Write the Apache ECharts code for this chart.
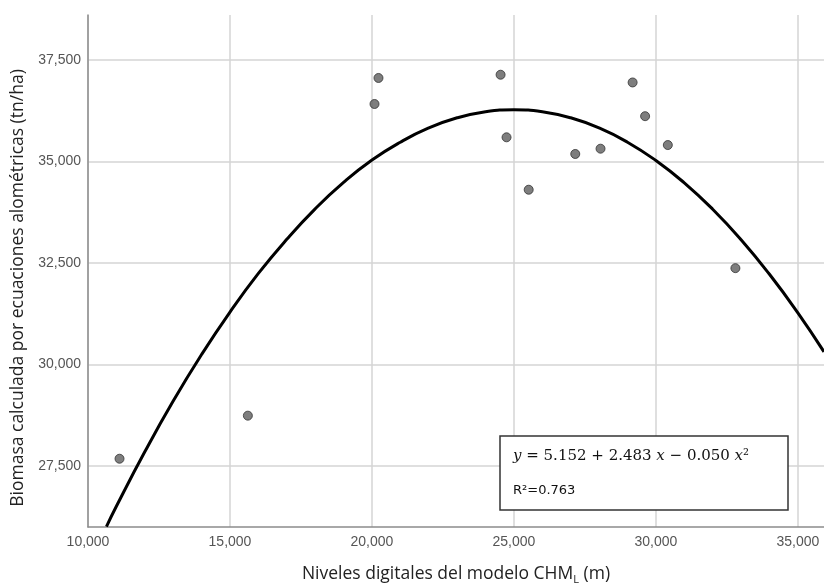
<!DOCTYPE html>
<html>
<head>
<meta charset="utf-8">
<script src="https://cdn.jsdelivr.net/npm/echarts@6/dist/echarts.min.js"></script>
<style>html,body{margin:0;padding:0;background:#fff;}#c{width:824px;height:587px;}</style>
</head>
<body>
<div id="c"></div>
<script>
// Observed points (x: digital level, y: biomass)
const obsX = [11110, 15630, 20090, 20230, 24530, 24740, 25520, 27160, 28050, 29180, 29620, 30420, 32800];
const obsY = [27680, 28740, 36410, 37050, 37130, 35590, 34300, 35180, 35310, 36940, 36110, 35400, 32370];
// Fitted curve
const fitX = [10650, 11000, 12000, 13000, 14000, 15000, 16000, 17000, 18000, 19000, 20000, 21000, 22000, 23000, 24000, 25000, 26000, 27000, 28000, 29000, 30000, 31000, 32000, 33000, 34000, 35000, 35920];
const fitY = [26010, 26510, 27850, 29100, 30245, 31290, 32240, 33080, 33830, 34480, 35030, 35470, 35820, 36070, 36220, 36270, 36220, 36070, 35820, 35470, 35020, 34470, 33820, 33070, 32220, 31270, 30310];
const xTicks = [10000, 15000, 20000, 25000, 30000, 35000];
const yTicks = [27500, 30000, 32500, 35000, 37500];

const fmt = v => Number(v).toLocaleString('en-US');
const chart = echarts.init(document.getElementById('c'), null, {renderer: 'canvas'});
chart.setOption({
  animation: false,
  backgroundColor: '#fff',
  grid: {left: 88, top: 15, right: 0, bottom: 60, containLabel: false, outerBoundsMode: 'none'},
  xAxis: {
    type: 'value', min: 10000, max: 35920,
    name: '{a|Niveles digitales del modelo CHM}{s|L}{a| (m)}',
    nameLocation: 'middle', nameGap: 36,
    nameTextStyle: {
      rich: {
        a: {fontFamily: 'Open Sans', fontSize: 17.5, color: '#222', lineHeight: 22},
        s: {fontFamily: 'Open Sans', fontSize: 11, color: '#222', lineHeight: 11, verticalAlign: 'bottom'}
      }
    },
    axisLine: {show: true, lineStyle: {color: '#8c8c8c', width: 1.5}},
    axisTick: {show: false, customValues: xTicks},
    axisLabel: {customValues: xTicks, formatter: fmt, color: '#555', fontFamily: 'Liberation Sans', fontSize: 14, margin: 8},
    splitLine: {show: true, customValues: xTicks, lineStyle: {color: '#d4d4d4', width: 1.5}}
  },
  yAxis: {
    type: 'value', min: 26000, max: 38600,
    name: 'Biomasa calculada por ecuaciones alométricas (tn/ha)',
    nameLocation: 'middle', nameGap: 55, nameRotate: 90,
    nameTextStyle: {fontFamily: 'Open Sans', fontSize: 17.5, color: '#222', padding: [0, 34, 0, 0]},
    axisLine: {show: true, lineStyle: {color: '#8c8c8c', width: 1.5}},
    axisTick: {show: false, customValues: yTicks},
    axisLabel: {customValues: yTicks, formatter: fmt, color: '#555', fontFamily: 'Liberation Sans', fontSize: 14, margin: 7},
    splitLine: {show: true, customValues: yTicks, lineStyle: {color: '#d4d4d4', width: 1.5}}
  },
  series: [
    {
      type: 'line', data: fitX.map((x, i) => [x, fitY[i]]), smooth: true, showSymbol: false,
      lineStyle: {color: '#000', width: 3}, z: 3, clip: true
    },
    {
      type: 'scatter', data: obsX.map((x, i) => [x, obsY[i]]), symbolSize: 9,
      itemStyle: {color: '#5e5e5e', borderColor: '#333', borderWidth: 1}, z: 4
    }
  ],
  graphic: [
    {type: 'rect', shape: {x: 500, y: 436, width: 288, height: 74}, style: {fill: '#fff', stroke: '#333', lineWidth: 1.5}, z: 10},
    {type: 'text', x: 513, y: 456, z: 11, style: {
      text: '{i|y}{n| = 5.152 + 2.483 }{i|x}{n| − 0.050 }{i|x}{n|²}',
      rich: {
        i: {fontFamily: 'DejaVu Serif', fontStyle: 'italic', fontSize: 15, fill: '#111'},
        n: {fontFamily: 'DejaVu Serif', fontSize: 15, fill: '#111'}
      }, verticalAlign: 'middle'
    }},
    {type: 'text', x: 513, y: 491, z: 11, style: {text: 'R²=0.763', fontFamily: 'DejaVu Sans', fontSize: 13, fill: '#111', verticalAlign: 'middle'}}
  ]
});
</script>
</body>
</html>
